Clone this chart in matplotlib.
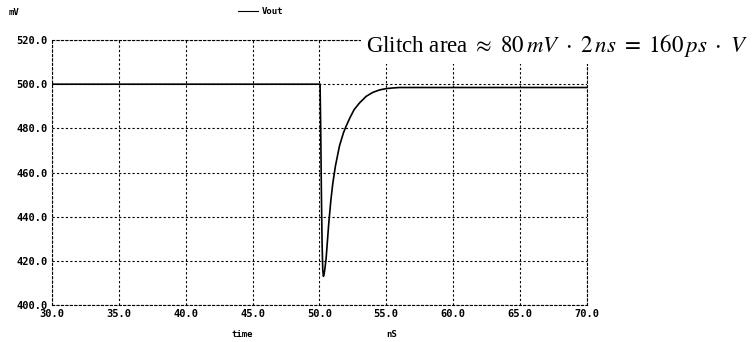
import matplotlib.pyplot as plt
from matplotlib.ticker import FormatStrFormatter

# Vout transient (ns, mV)
t_ns = [30.0, 50.05, 50.1, 50.15, 50.2, 50.25, 50.3, 50.35, 50.4, 50.5, 50.6, 50.7,
        50.85, 51.0, 51.2, 51.5, 51.8, 52.0, 52.3, 52.6, 53.0, 53.5, 54.0, 54.5,
        55.0, 55.5, 56.0, 58.0, 70.0]
vout_mv = [500.0, 500.0, 478.0, 450.0, 428.0, 416.0, 413.0, 414.0, 416.0, 421.0, 429.0, 437.0,
           447.0, 455.0, 463.0, 472.0, 478.0, 481.0, 485.0, 488.5, 491.5, 494.5, 496.3, 497.4,
           498.0, 498.3, 498.5, 498.5, 498.5]

xticks = [30, 35, 40, 45, 50, 55, 60, 65, 70]
yticks = [400, 420, 440, 460, 480, 500, 520]

fig = plt.figure(figsize=(7.56, 3.42), dpi=100)
ax = fig.add_axes([0.069, 0.108, 0.707, 0.775])

ax.plot(t_ns, vout_mv, color='black', linewidth=1.2, label='Vout')

ax.set_xlim(30, 70)
ax.set_ylim(400, 520)
ax.set_xticks(xticks)
ax.set_yticks(yticks)
ax.xaxis.set_major_formatter(FormatStrFormatter('%.1f'))
ax.yaxis.set_major_formatter(FormatStrFormatter('%.1f'))
ax.tick_params(length=0, pad=3, labelsize=7.5)
for lab in ax.get_xticklabels() + ax.get_yticklabels():
    lab.set_fontfamily('DejaVu Sans Mono')
    lab.set_fontweight('bold')

ax.grid(True, color='black', linestyle=(0, (2, 2)), linewidth=0.8)
for spine in ax.spines.values():
    spine.set_linestyle((0, (2, 2)))
    spine.set_linewidth(0.8)

mono = dict(family='DejaVu Sans Mono', weight='bold', fontsize=6.5)
fig.text(0.012, 0.962, 'mV', ha='left', va='center', **mono)
fig.text(0.32, 0.022, 'time', ha='center', va='center', **mono)
fig.text(0.518, 0.022, 'nS', ha='center', va='center', **mono)

leg = ax.legend(loc='center', bbox_to_anchor=(0.345, 0.965), bbox_transform=fig.transFigure,
                frameon=False, handlelength=2.2, handletextpad=0.4, borderaxespad=0,
                prop={'family': 'DejaVu Sans Mono', 'weight': 'bold', 'size': 6.5})
leg.get_lines()[0].set_linewidth(0.8)

# annotation sits on a white box over the top-right of the grid
plt.rcParams['mathtext.fontset'] = 'stix'
fig.text(0.99, 0.868,
         r'Glitch area $\approx\ 80\,mV\ \cdot\ 2\,ns\ =\ 160\,ps\ \cdot\ V$',
         ha='right', va='center', fontsize=16.5, family='Liberation Serif',
         bbox=dict(facecolor='white', edgecolor='none', pad=4))

fig.savefig('out.png', dpi=100)
